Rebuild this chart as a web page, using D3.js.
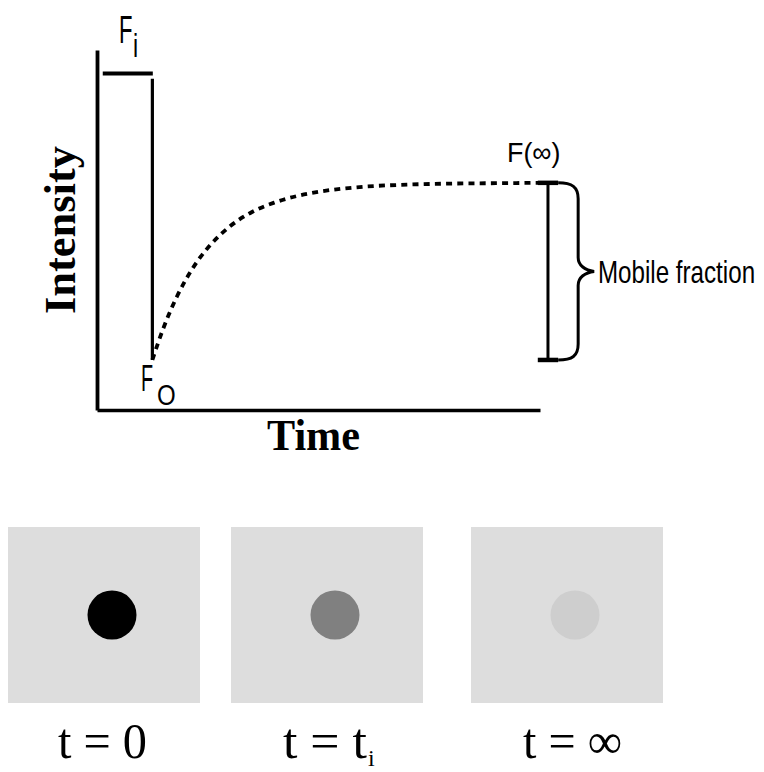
<!DOCTYPE html>
<html>
<head>
<meta charset="utf-8">
<script src="https://cdn.jsdelivr.net/npm/d3@7"></script>
<style>
  html, body { margin: 0; padding: 0; background: #fff; }
  svg { display: block; }
</style>
</head>
<body>
<svg id="chart" width="764" height="772"></svg>
<script>
// FRAP recovery curve: time and intensity in arbitrary units (0–100)
const fiSegment = [1.3, 12.6];          // pre-bleach plateau, time range
const fiLevel = 93.5;                   // pre-bleach intensity F_i
const bleachTime = 12.5;                // moment of bleaching
const bleachTop = 92;                   // top of the bleach drop
const f0Level = 13.9;                   // intensity just after bleach F_0
const fInfLevel = 63.1;                 // recovered intensity F(∞)
const barTime = 101.8;                  // where the mobile-fraction bar sits
const capHalf = 2.3;                    // half width of bar caps (time units)

const recoveryTime = [12.5, 14, 16, 18, 20, 23, 26, 30, 35, 40, 45, 50, 60, 70, 80, 90, 100];
const recoveryIntensity = [13.9, 19.4, 25.9, 31.4, 36.1, 41.9, 46.4, 51.0, 55.0, 57.6, 59.4, 60.6, 62.0, 62.6, 62.9, 63.0, 63.1];

// snapshots of the bleached spot
const snapshotLabels = ["t = 0", "t = t", "t = ∞"];
const snapshotSub = ["", "i", ""];
const spotFill = ["#000000", "#808080", "#cecece"];

const svg = d3.select("#chart");

const x = d3.scaleLinear().domain([0, 100]).range([97, 540]);
const y = d3.scaleLinear().domain([0, 100]).range([410, 50]);

// axes: plain lines, no ticks
const axisX = d3.axisBottom(x).tickValues([]).tickSizeOuter(0);
const axisY = d3.axisLeft(y).tickValues([]).tickSizeOuter(0);
svg.append("g").attr("transform", `translate(0,${y(0)})`).call(axisX)
  .select(".domain").attr("stroke", "#000").attr("stroke-width", 3.5);
svg.append("g").attr("transform", `translate(${x(0)},0)`).call(axisY)
  .select(".domain").attr("stroke", "#000").attr("stroke-width", 3.8);

// pre-bleach level
svg.append("line")
  .attr("x1", x(fiSegment[0])).attr("x2", x(fiSegment[1]))
  .attr("y1", y(fiLevel)).attr("y2", y(fiLevel))
  .attr("stroke", "#000").attr("stroke-width", 4);

// bleach drop
svg.append("line")
  .attr("x1", x(bleachTime)).attr("x2", x(bleachTime))
  .attr("y1", y(bleachTop)).attr("y2", y(f0Level))
  .attr("stroke", "#000").attr("stroke-width", 3.2);

// recovery curve (dotted)
const pts = recoveryTime.map((t, i) => [t, recoveryIntensity[i]]);
const line = d3.line().x(d => x(d[0])).y(d => y(d[1])).curve(d3.curveMonotoneX);
svg.append("path")
  .attr("d", line(pts))
  .attr("fill", "none")
  .attr("stroke", "#000")
  .attr("stroke-width", 3.8)
  .attr("stroke-dasharray", "6,5.2");

// mobile fraction bar
const bx = x(barTime);
svg.append("line")
  .attr("x1", bx).attr("x2", bx)
  .attr("y1", y(fInfLevel)).attr("y2", y(f0Level))
  .attr("stroke", "#000").attr("stroke-width", 3);
[fInfLevel, f0Level].forEach(v => {
  svg.append("line")
    .attr("x1", x(barTime - capHalf)).attr("x2", x(barTime + capHalf))
    .attr("y1", y(v)).attr("y2", y(v))
    .attr("stroke", "#000").attr("stroke-width", 4.5);
});

// curly brace
const yt = y(fInfLevel), yb = y(f0Level), ym = (yt + yb) / 2;
const b0 = x(barTime + capHalf), b1 = b0 + 20, tip = b1 + 16;
const brace = d3.path();
brace.moveTo(b0, yt);
brace.bezierCurveTo(b0 + 14, yt, b1, yt + 4, b1, yt + 16);
brace.lineTo(b1, ym - 14);
brace.bezierCurveTo(b1, ym - 6, b1 + 7, ym - 1, tip, ym);
brace.bezierCurveTo(b1 + 7, ym + 1, b1, ym + 6, b1, ym + 14);
brace.lineTo(b1, yb - 16);
brace.bezierCurveTo(b1, yb - 4, b0 + 14, yb, b0, yb);
svg.append("path").attr("d", brace.toString())
  .attr("fill", "none").attr("stroke", "#000").attr("stroke-width", 3);

// condensed sans labels: horizontally squeezed text
function sans(txt, tx, ty, size, sx) {
  svg.append("text")
    .attr("transform", `translate(${tx},${ty}) scale(${sx},1)`)
    .attr("font-family", "'Liberation Sans', Arial, sans-serif")
    .attr("font-size", size)
    .attr("fill", "#000")
    .text(txt);
}
sans("F", 119, 43, 38, 0.58);
sans("i", 133, 57, 33, 0.7);
sans("F", 141, 391, 36, 0.55);
sans("O", 157, 405, 30, 0.8);
sans("F(∞)", 507, 162, 28, 0.96);
sans("Mobile fraction", 598, 283, 32, 0.755);

// axis titles
svg.append("text")
  .attr("transform", `translate(75,230) rotate(-90)`)
  .attr("text-anchor", "middle")
  .attr("font-family", "'Liberation Serif', 'Times New Roman', serif")
  .attr("font-weight", "bold")
  .attr("font-size", 44)
  .attr("textLength", 168)
  .attr("lengthAdjust", "spacingAndGlyphs")
  .text("Intensity");
svg.append("text")
  .attr("x", 267).attr("y", 450)
  .attr("font-family", "'Liberation Serif', 'Times New Roman', serif")
  .attr("font-weight", "bold")
  .attr("font-size", 44)
  .attr("textLength", 93)
  .attr("lengthAdjust", "spacingAndGlyphs")
  .text("Time");

// snapshot panels
const panelLeft = [8, 231, 471];
const panelW = 192, panelH = 176, panelTop = 527;
const labelOffset = [50, 52, 52];
const labelLen = [89, 84, 99];
const panels = svg.selectAll("g.snap")
  .data(snapshotLabels)
  .join("g")
  .attr("class", "snap")
  .attr("transform", (d, i) => `translate(${panelLeft[i]},${panelTop})`);
panels.append("rect")
  .attr("width", panelW).attr("height", panelH)
  .attr("fill", "#dddddd");
panels.append("circle")
  .attr("cx", 104)
  .attr("cy", 88)
  .attr("r", 24.5)
  .attr("fill", (d, i) => spotFill[i]);
panels.append("text")
  .attr("x", (d, i) => labelOffset[i])
  .attr("y", 231)
  .attr("font-family", "'Liberation Serif', 'Times New Roman', serif")
  .attr("font-size", 50)
  .attr("textLength", (d, i) => labelLen[i])
  .attr("lengthAdjust", "spacingAndGlyphs")
  .text(d => d);
panels.filter((d, i) => snapshotSub[i] !== "")
  .append("text")
  .attr("x", labelOffset[1] + labelLen[1] + 1)
  .attr("y", 239)
  .attr("font-family", "'Liberation Serif', 'Times New Roman', serif")
  .attr("font-size", 24)
  .text(snapshotSub[1]);
</script>
</body>
</html>
